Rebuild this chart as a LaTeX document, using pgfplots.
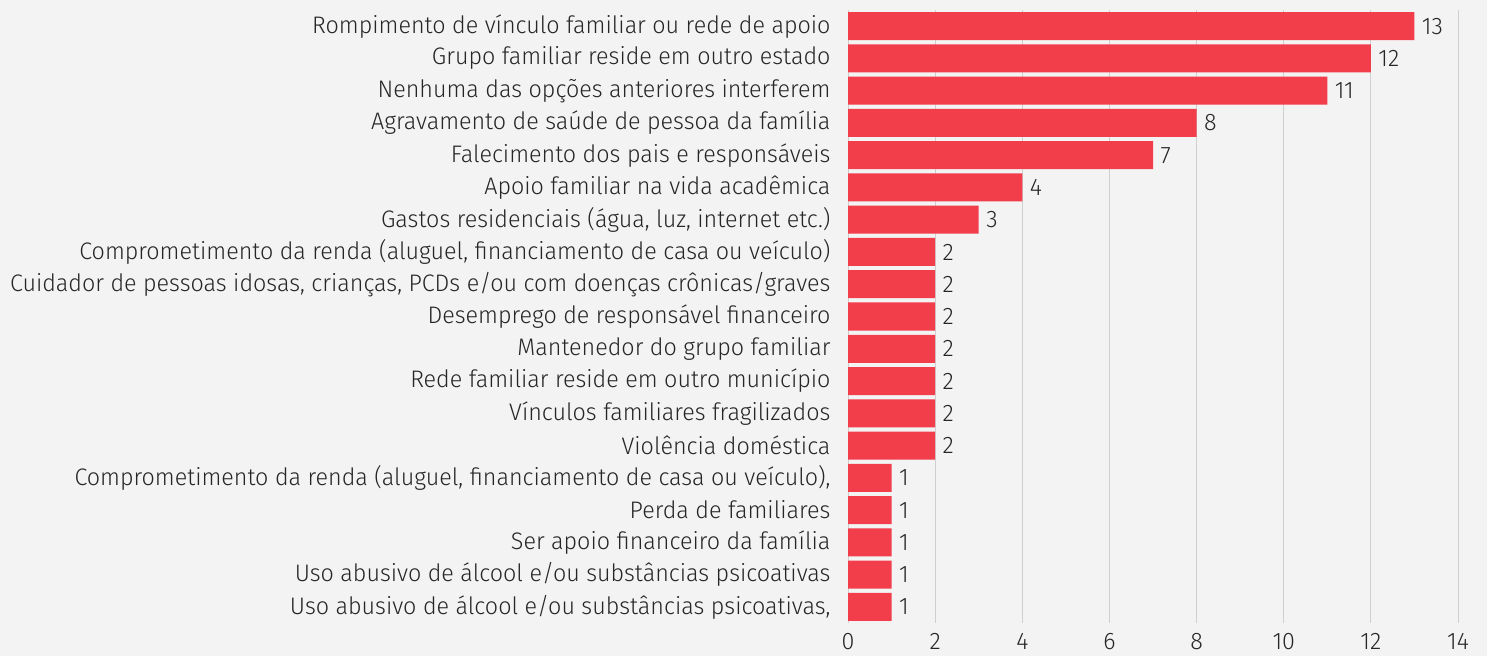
\documentclass[border=0pt]{standalone}
\usepackage{pgfplots}
\pgfplotsset{compat=1.18}
\usepackage{pgfplotstable}
\usepackage{fontspec}
\setmainfont{Fira Sans Light}[FakeStretch=0.975]
\definecolor{barred}{HTML}{F23D4B}
\definecolor{bg}{HTML}{F3F3F3}
\definecolor{gridc}{HTML}{CFCFCF}
\pgfplotstableread{
y v
0 13
1 12
2 11
3 8
4 7
5 4
6 3
7 2
8 2
9 2
10 2
11 2
12 2
13 2
14 1
15 1
16 1
17 1
18 1
}\data
\begin{document}
\begin{tikzpicture}[x=1bp,y=1bp]
\useasboundingbox (0,0) rectangle (1487,656);
\fill[bg] (0,0) rectangle (1487,656);
\begin{axis}[
  at={(848bp,33bp)}, anchor=south west,
  scale only axis, width=610bp, height=613bp,
  xmin=0, xmax=14, ymin=-0.5, ymax=18.5, y dir=reverse,
  axis line style={draw=none},
  xtick={0,2,...,14}, ytick={0,...,18},
  major tick length=0pt,
  xmajorgrids, grid style={gridc, line width=0.8pt},
  /pgf/number format/assume math mode=true,
  tick label style={font=\fontsize{24}{27}\selectfont, text=black!85},
  xticklabel style={yshift=-7bp},
  yticklabel style={xshift=-14bp},
  yticklabels={
    {Rompimento de vínculo familiar ou rede de apoio},
    {Grupo familiar reside em outro estado},
    {Nenhuma das opções anteriores interferem},
    {Agravamento de saúde de pessoa da família},
    {Falecimento dos pais e responsáveis},
    {Apoio familiar na vida acadêmica},
    {Gastos residenciais (água, luz, internet etc.)},
    {Comprometimento da renda (aluguel, financiamento de casa ou veículo)},
    {Cuidador de pessoas idosas, crianças, PCDs e/ou com doenças crônicas/graves},
    {Desemprego de responsável financeiro},
    {Mantenedor do grupo familiar},
    {Rede familiar reside em outro município},
    {Vínculos familiares fragilizados},
    {Violência doméstica},
    {Comprometimento da renda (aluguel, financiamento de casa ou veículo),},
    {Perda de familiares},
    {Ser apoio financeiro da família},
    {Uso abusivo de álcool e/ou substâncias psicoativas},
    {Uso abusivo de álcool e/ou substâncias psicoativas,}
  },
  xbar, bar width=28bp, bar shift=0pt,
  nodes near coords,
  nodes near coords style={font=\fontsize{24}{27}\selectfont, text=black!85, xshift=4bp},
  clip=false,
]
\addplot[fill=barred, draw=none] table[x=v, y=y] {\data};
\end{axis}
\end{tikzpicture}
\end{document}
